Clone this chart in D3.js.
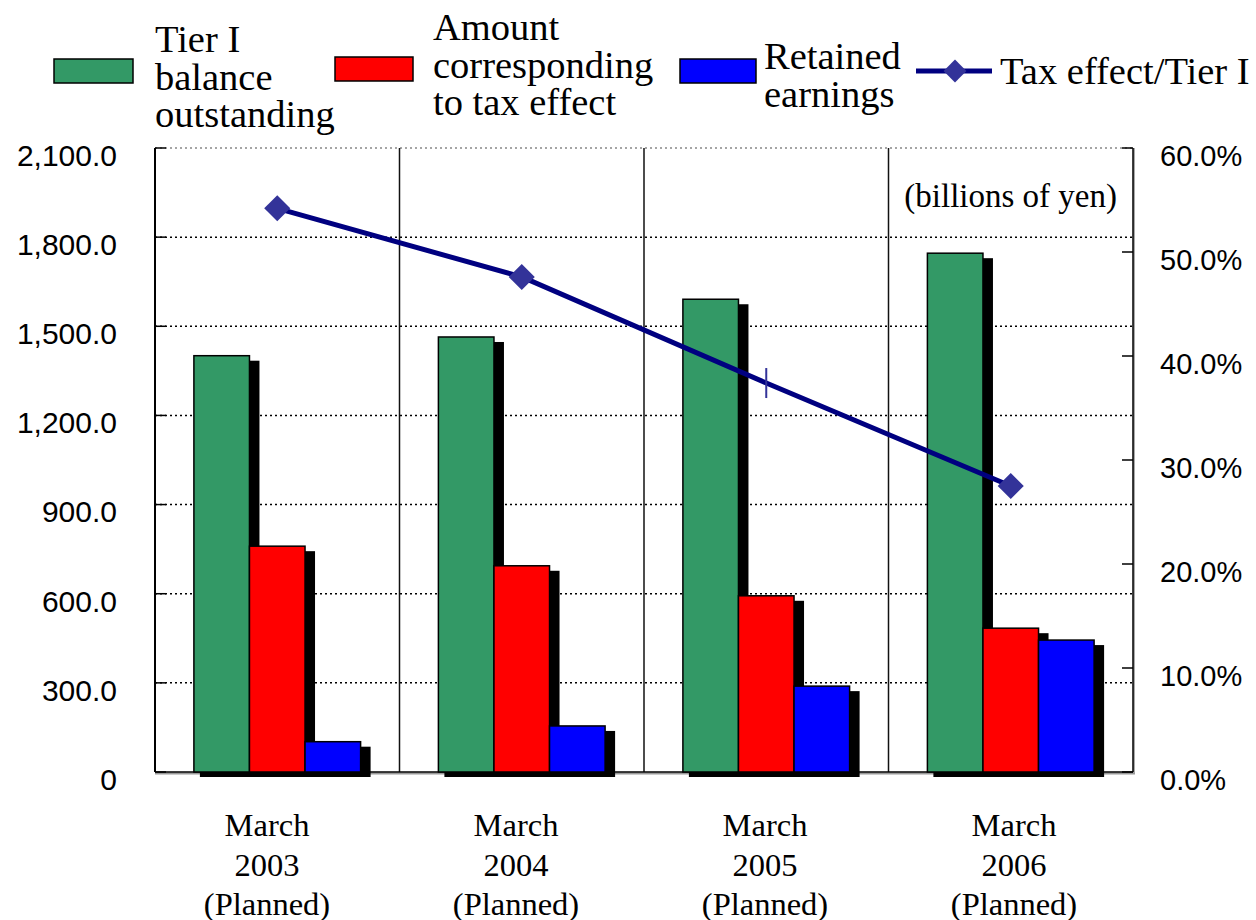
<!DOCTYPE html>
<html>
  <head>
    <meta charset="UTF-8">
    <script src="https://d3js.org/d3.v7.min.js"></script>
    <style>
      body { margin: 0; background: #fff; }
      .tick-l, .tick-r { font-family: "Liberation Sans", Arial, sans-serif; font-size: 30px; fill: #000; }
      .serif { font-family: "Liberation Serif", "Times New Roman", serif; fill: #000; }
    </style>
  </head>
  <body>
    <svg id="chart" width="1256" height="920"></svg>
    <script>
      // data
      var categories = ['2003', '2004', '2005', '2006'];
      var tier1 = [1401, 1464, 1591, 1746];
      var taxEffect = [760, 694, 593, 484];
      var retained = [102, 155, 289, 444];
      var ratio = [54.2, 47.6, 37.4, 27.5];
      var leftTicks = [0, 300, 600, 900, 1200, 1500, 1800, 2100];
      var rightTicks = [0, 10, 20, 30, 40, 50, 60];
      var seriesNames = ['tier1', 'tax', 'retained'];
      var seriesColors = ['#339966', '#ff0000', '#0000ff'];
      var pointStyle = ['diamond', 'diamond', 'bar', 'diamond'];

      (function() {
      var svg = d3.select('#chart');
      var left = 155, right = 1133, plotTop = 148, bottom = 772;

      var x = d3.scaleBand().domain(categories).range([left, right]);
      var xs = d3.scaleBand().domain(seriesNames).range([0, x.bandwidth()]).paddingOuter(0.7);
      var y = d3.scaleLinear().domain([0, 2100]).range([bottom, plotTop]);
      var y2 = d3.scaleLinear().domain([0, 60]).range([bottom, plotTop]);
      var xLabel = d3.scalePoint().domain(categories).range([267, 1014]);

      // dotted grid
      svg.selectAll('.grid').data(leftTicks.slice(1)).enter().append('line')
        .attr('x1', left).attr('x2', right)
        .attr('y1', function(d) { return y(d); }).attr('y2', function(d) { return y(d); })
        .attr('stroke', function(d) { return d == 2100 ? '#888' : '#000'; })
        .attr('stroke-width', 1.5)
        .attr('stroke-dasharray', '2,3');

      // category separators
      svg.selectAll('.sep').data(categories.slice(1)).enter().append('line')
        .attr('x1', function(d) { return x(d); }).attr('x2', function(d) { return x(d); })
        .attr('y1', plotTop).attr('y2', bottom)
        .attr('stroke', '#111').attr('stroke-width', 1.5);

      // axes frame
      svg.append('line').attr('x1', left).attr('x2', left).attr('y1', plotTop).attr('y2', bottom)
        .attr('stroke', '#000').attr('stroke-width', 2);
      svg.append('line').attr('x1', right + 1).attr('x2', right + 1).attr('y1', plotTop).attr('y2', bottom + 1)
        .attr('stroke', '#aaa').attr('stroke-width', 2);
      svg.append('line').attr('x1', right).attr('x2', right).attr('y1', plotTop).attr('y2', bottom)
        .attr('stroke', '#000').attr('stroke-width', 1.5);
      svg.append('line').attr('x1', left).attr('x2', right + 2).attr('y1', bottom + 1.5).attr('y2', bottom + 1.5)
        .attr('stroke', '#999').attr('stroke-width', 2);
      svg.append('line').attr('x1', left).attr('x2', right).attr('y1', bottom).attr('y2', bottom)
        .attr('stroke', '#000').attr('stroke-width', 1.5);

      // bars
      var flat = [];
      categories.forEach(function(c, i) {
        flat.push({ cat: c, s: 'tier1', v: tier1[i], color: seriesColors[0] });
        flat.push({ cat: c, s: 'tax', v: taxEffect[i], color: seriesColors[1] });
        flat.push({ cat: c, s: 'retained', v: retained[i], color: seriesColors[2] });
      });

      svg.selectAll('.shadow').data(flat).enter().append('rect')
        .attr('x', function(d) { return x(d.cat) + xs(d.s) + 6; })
        .attr('y', function(d) { return y(d.v) + 5; })
        .attr('width', xs.bandwidth() + 4)
        .attr('height', function(d) { return bottom - y(d.v); })
        .attr('fill', '#000');

      svg.selectAll('.bar').data(flat).enter().append('rect')
        .attr('x', function(d) { return x(d.cat) + xs(d.s); })
        .attr('y', function(d) { return y(d.v); })
        .attr('width', xs.bandwidth())
        .attr('height', function(d) { return bottom - y(d.v); })
        .attr('fill', function(d) { return d.color; })
        .attr('stroke', '#000').attr('stroke-width', 1.5);

      // inward ticks
      svg.selectAll('.lt').data(leftTicks).enter().append('line')
        .attr('x1', left).attr('x2', left + 11)
        .attr('y1', function(d) { return y(d); }).attr('y2', function(d) { return y(d); })
        .attr('stroke', '#000').attr('stroke-width', 1.5);
      svg.selectAll('.rt').data(rightTicks).enter().append('line')
        .attr('x1', right - 11).attr('x2', right)
        .attr('y1', function(d) { return y2(d); }).attr('y2', function(d) { return y2(d); })
        .attr('stroke', '#000').attr('stroke-width', 1.5);

      // tick labels
      svg.selectAll('.tick-l').data(leftTicks).enter().append('text')
        .attr('class', 'tick-l')
        .attr('x', 117).attr('y', function(d) { return y(d) + 10; })
        .attr('text-anchor', 'end').attr('dominant-baseline', 'middle')
        .text(function(d) { return d == 0 ? '0' : d3.format(',.1f')(d); });
      svg.selectAll('.tick-r').data(rightTicks).enter().append('text')
        .attr('class', 'tick-r')
        .attr('x', 1160).attr('y', function(d) { return y2(d) + 10; })
        .attr('dominant-baseline', 'middle')
        .style('font-size', '29px')
        .text(function(d) { return d.toFixed(1) + '%'; });

      // ratio line
      var cx = function(i) { return x(categories[i]) + x.bandwidth() / 2; };
      var line = d3.line().x(function(d, i) { return cx(i); }).y(function(d) { return y2(d); });
      svg.append('path').datum(ratio).attr('d', line)
        .attr('fill', 'none').attr('stroke', '#000080').attr('stroke-width', 5);
      var diamond = d3.symbol().type(d3.symbolSquare).size(340);
      ratio.forEach(function(d, i) {
        if (pointStyle[i] == 'diamond') {
          svg.append('path').attr('d', diamond())
            .attr('transform', 'translate(' + cx(i) + ',' + y2(d) + ') rotate(45)')
            .attr('fill', '#333399');
        } else {
          svg.append('line').attr('x1', cx(i)).attr('x2', cx(i))
            .attr('y1', y2(d) - 15).attr('y2', y2(d) + 15)
            .attr('stroke', '#333399').attr('stroke-width', 2);
        }
      });

      // category labels
      var catText = svg.selectAll('.cat').data(categories).enter().append('text')
        .attr('class', 'serif').attr('text-anchor', 'middle')
        .style('font-size', '32.5px');
      catText.each(function(d) {
        var t = d3.select(this);
        ['March', d, '(Planned)'].forEach(function(s, k) {
          t.append('tspan').attr('x', xLabel(d)).attr('y', 836 + k * 39.5).text(s);
        });
      });

      svg.append('text').attr('class', 'serif').attr('x', 1117).attr('y', 207)
        .attr('text-anchor', 'end').style('font-size', '33px').text('(billions of yen)');

      // legend
      var legend = [
        { sw: [54, 59, 79, 24], color: seriesColors[0], tx: 155, lines: ['Tier I', 'balance', 'outstanding'], y0: 52 },
        { sw: [335, 57, 78, 24], color: seriesColors[1], tx: 433, lines: ['Amount', 'corresponding', 'to tax effect'], y0: 40 },
        { sw: [680, 59, 76, 24], color: seriesColors[2], tx: 764, lines: ['Retained', 'earnings'], y0: 69 }
      ];
      legend.forEach(function(l) {
        svg.append('rect').attr('x', l.sw[0]).attr('y', l.sw[1]).attr('width', l.sw[2]).attr('height', l.sw[3])
          .attr('fill', l.color).attr('stroke', '#000').attr('stroke-width', 1.5);
        var t = svg.append('text').attr('class', 'serif').style('font-size', '38.5px');
        l.lines.forEach(function(s, k) {
          t.append('tspan').attr('x', l.tx).attr('y', l.y0 + k * 37.5).text(s);
        });
      });
      svg.append('line').attr('x1', 916).attr('x2', 992).attr('y1', 71).attr('y2', 71)
        .attr('stroke', '#000080').attr('stroke-width', 5);
      svg.append('path').attr('d', d3.symbol().type(d3.symbolSquare).size(260)())
        .attr('transform', 'translate(955,71) rotate(45)').attr('fill', '#333399');
      svg.append('text').attr('class', 'serif').attr('x', 1000).attr('y', 84)
        .style('font-size', '38.5px').text('Tax effect/Tier I');
      })();
    </script>
  </body>
</html>
